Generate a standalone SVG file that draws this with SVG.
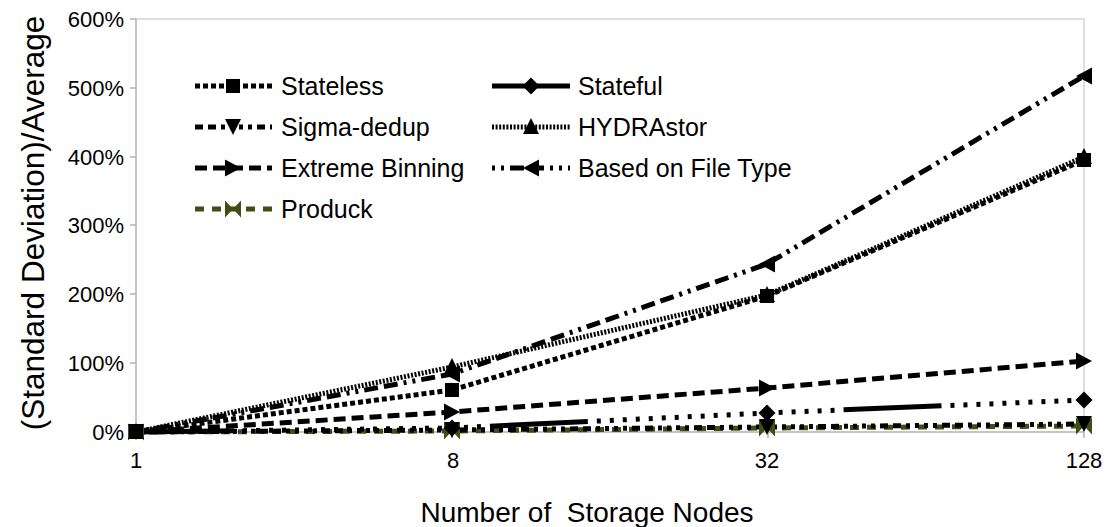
<svg xmlns="http://www.w3.org/2000/svg" width="1109" height="527" viewBox="0 0 1109 527">
<style>
text{font-family:"Liberation Sans",Arial,sans-serif;fill:#000}
.tick{font-size:22px}
.leg{font-size:25px}
.title{font-size:28px}
.ytitle{font-size:31.5px}
.ln{fill:none;stroke-width:5;stroke-linejoin:round}
.k{stroke:#000}
.g{stroke:#3d4f12}
.sl{stroke-dasharray:5 3}
.sf{stroke-dasharray:98 9 4 9 4 9 4 9 4 9 4 9 4 9 4 9 4 9 4 9 4 9 4 9 4 9 4 9 4 9 4 9 4 9 4 9 4 9 4 9}
.sg{stroke-dasharray:8 5 8 5 4 5 4 5 4 5 4 5}
.hy{stroke-dasharray:2 1.6}
.eb{stroke-dasharray:12 6}
.ft{stroke-dasharray:14 6 14 6 3 6 3 6}
.pd{stroke-dasharray:9 8}
.mk{fill:#000}
.mg{fill:#3d4f12}
</style>
<defs>
<path id="sq" d="M-7,-7H7V7H-7Z"/>
<path id="di" d="M0,-8.5L8.5,0L0,8.5L-8.5,0Z"/>
<path id="td" d="M-8,-8H8L0,8Z"/>
<path id="tu" d="M0,-9L8,7H-8Z"/>
<path id="tr" d="M-8,-8.5L8,0L-8,8.5Z"/>
<path id="tl" d="M8,-8.5L-8,0L8,8.5Z"/>
<path id="bt" d="M-8,-8.5L0,0L-8,8.5ZM8,-8.5L0,0L8,8.5Z"/>
</defs>

<g id="plot-frame">
<path d="M136,19H1084V432" fill="none" stroke="#d4d4d4" stroke-width="1.5"/>
<path d="M136,19V432H1084" fill="none" stroke="#b3b3b3" stroke-width="1.5"/>
<path d="M130,19H136M130,88H136M130,157H136M130,225H136M130,294H136M130,363H136M130,432H136M136,432V438M452,432V438M768,432V438M1084,432V438" stroke="#b3b3b3" stroke-width="1.5"/>
</g>

<g id="y-axis-labels" class="tick" text-anchor="end">
<text x="124" y="27">600%</text>
<text x="124" y="96">500%</text>
<text x="124" y="165">400%</text>
<text x="124" y="233">300%</text>
<text x="124" y="302">200%</text>
<text x="124" y="371">100%</text>
<text x="124" y="440">0%</text>
</g>
<g id="x-axis-labels" class="tick" text-anchor="middle">
<text x="136" y="468">1</text>
<text x="453" y="468">8</text>
<text x="767" y="468">32</text>
<text x="1084" y="468">128</text>
</g>
<text id="x-title" class="title" x="587" y="522" text-anchor="middle" xml:space="preserve">Number of  Storage Nodes</text>
<text id="y-title" class="ytitle" transform="translate(44,223) rotate(-90)" text-anchor="middle">(Standard Deviation)/Average</text>

<g id="connectors">
<polyline id="line-produck" class="ln g pd" points="136,432 452,431 767,428 1084,426"/>
<polyline id="line-stateless" class="ln k sl" points="136,432 452,390 767,296 1084,160"/>
<polyline id="line-stateful" class="ln k sf" points="136,432 452,428 767,413 1084,400"/>
<polyline id="line-sigma" class="ln k sg" points="136,432 452,430 767,427 1084,424"/>
<polyline id="line-hydra" class="ln k hy" points="136,432 452,367 767,295 1084,157"/>
<polyline id="line-extreme" class="ln k eb" points="136,432 452,412 767,388 1084,361"/>
<polyline id="line-filetype" class="ln k ft" points="136,432 452,374 767,264 1084,76"/>
</g>

<g id="series-produck" class="mg">
<use href="#bt" x="136" y="432"/><use href="#bt" x="452" y="431"/><use href="#bt" x="767" y="428"/><use href="#bt" x="1084" y="426"/>
</g>
<g id="series-stateless" class="mk">
<use href="#sq" x="136" y="432"/><use href="#sq" x="452" y="390"/><use href="#sq" x="767" y="296"/><use href="#sq" x="1084" y="160"/>
</g>
<g id="series-stateful" class="mk">
<use href="#di" x="452" y="428"/><use href="#di" x="767" y="413"/><use href="#di" x="1084" y="400"/>
</g>
<g id="series-sigma" class="mk">
<use href="#td" x="136" y="432"/><use href="#td" x="452" y="430"/><use href="#td" x="767" y="427"/><use href="#td" x="1084" y="424"/>
</g>
<g id="series-hydra" class="mk">
<use href="#tu" x="136" y="432"/><use href="#tu" x="452" y="367"/><use href="#tu" x="767" y="295"/><use href="#tu" x="1084" y="157"/>
</g>
<g id="series-extreme" class="mk">
<use href="#tr" x="452" y="412"/><use href="#tr" x="767" y="388"/><use href="#tr" x="1084" y="361"/>
</g>
<g id="series-filetype" class="mk">
<use href="#tl" x="452" y="374"/><use href="#tl" x="767" y="264"/><use href="#tl" x="1084" y="76"/>
</g>

<g id="legend">
<g id="legend-stateless"><path class="ln k sl" d="M195,86H272"/><use class="mk" href="#sq" x="233" y="86"/><text class="leg" x="281" y="95">Stateless</text></g>
<g id="legend-stateful"><path class="ln k" d="M492,86H570"/><use class="mk" href="#di" x="531" y="86"/><text class="leg" x="578" y="95">Stateful</text></g>
<g id="legend-sigma"><path class="ln k sg" d="M195,127H272"/><use class="mk" href="#td" x="233" y="127"/><text class="leg" x="281" y="136">Sigma-dedup</text></g>
<g id="legend-hydra"><path class="ln k hy" d="M492,127H570"/><use class="mk" href="#tu" x="531" y="127"/><text class="leg" x="578" y="136">HYDRAstor</text></g>
<g id="legend-extreme"><path class="ln k eb" d="M195,168H272"/><use class="mk" href="#tr" x="233" y="168"/><text class="leg" x="281" y="177">Extreme Binning</text></g>
<g id="legend-filetype"><path class="ln k ft" d="M492,168H570" style="stroke-dashoffset:40"/><use class="mk" href="#tl" x="531" y="168"/><text class="leg" x="578" y="177">Based on File Type</text></g>
<g id="legend-produck"><path class="ln g pd" d="M195,209H272"/><use class="mg" href="#bt" x="233" y="209"/><text class="leg" x="281" y="218">Produck</text></g>
</g>
</svg>
